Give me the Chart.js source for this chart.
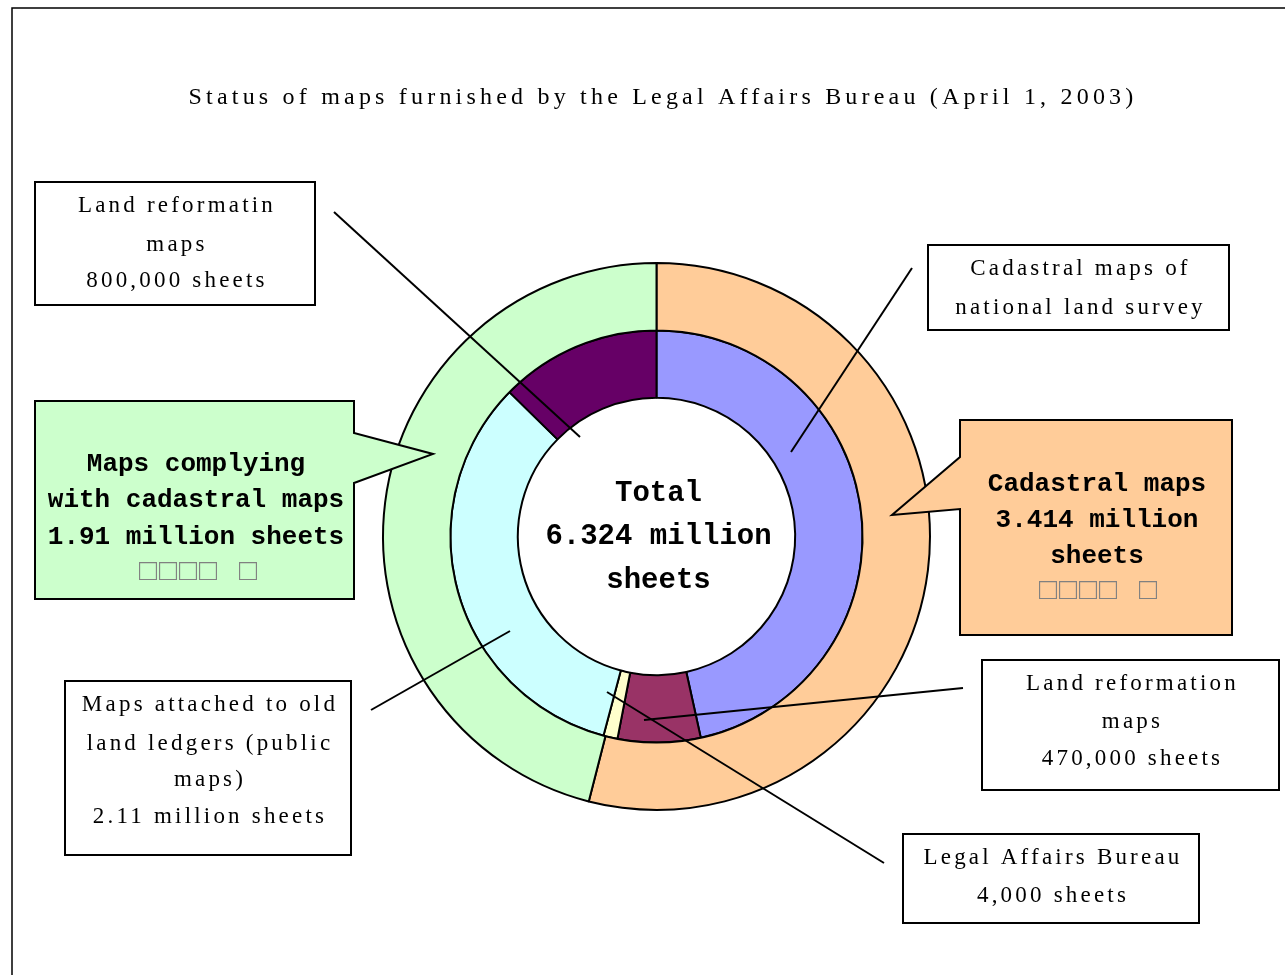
<!DOCTYPE html>
<html lang="en">
<head>
<meta charset="UTF-8">
<script src="https://cdn.jsdelivr.net/npm/chart.js"></script>
<style>
  body { margin: 0; background: #fff; }
</style>
</head>
<body>
<canvas id="myChart" width="1285" height="975"></canvas>
<script>
// outer ring: totals
const outerLabels = ['Cadastral maps', 'Maps complying with cadastral maps']
const outerValues = [3.414, 2.91]
const outerColors = ['#FFCC99', '#CCFFCC']

// inner ring: breakdown
const innerLabels = ['Cadastral maps of national land survey', 'Land reformation maps',
  'Legal Affairs Bureau', 'Maps attached to old land ledgers (public maps)', 'Land reformation maps']
const innerValues = [2.944, 0.41, 0.07, 2.1, 0.8]
const innerColors = ['#9999FF', '#993366', '#FFFFCC', '#CCFFFF', '#660066']

const titleText = 'Status of maps furnished by the Legal Affairs Bureau (April 1, 2003)'
const centerLines = ['Total', '6.324 million', 'sheets']

const REG = '23px "Liberation Serif"'
const BOLD = 'bold 26px "Liberation Mono"'

// label boxes: rect, lines of text, callout line
const boxes = [
  { x: 35, y: 182, w: 280, h: 123, lines: ['Land reformatin', 'maps', '800,000 sheets'], ys: [206, 245, 281], line: [334, 212, 580, 437] },
  { x: 928, y: 245, w: 301, h: 85, lines: ['Cadastral maps of', 'national land survey'], ys: [269, 308], line: [912, 268, 791, 452] },
  { x: 65, y: 681, w: 286, h: 174, lines: ['Maps attached to old', 'land ledgers (public', 'maps)', '2.11 million sheets'], ys: [705, 744, 780, 817], line: [371, 710, 510, 631] },
  { x: 982, y: 660, w: 297, h: 130, lines: ['Land reformation', 'maps', '470,000 sheets'], ys: [684, 722, 759], line: [963, 688, 644, 720] },
  { x: 903, y: 834, w: 296, h: 89, lines: ['Legal Affairs Bureau', '4,000 sheets'], ys: [858, 896], line: [884, 863, 607, 692] }
]

const annotate = {
  id: 'annotate',
  beforeDraw(chart) {
    const ctx = chart.ctx
    ctx.save()
    ctx.fillStyle = '#fff'
    ctx.fillRect(0, 0, chart.width, chart.height)
    ctx.strokeStyle = '#000'
    ctx.lineWidth = 1.5
    ctx.beginPath()
    ctx.moveTo(12, 975)
    ctx.lineTo(12, 8)
    ctx.lineTo(1285, 8)
    ctx.stroke()
    ctx.fillStyle = '#000'
    ctx.font = '24px "Liberation Serif"'
    ctx.letterSpacing = '4.2px'
    ctx.textAlign = 'center'
    ctx.textBaseline = 'middle'
    ctx.fillText(titleText, 663, 98)
    ctx.restore()
  },
  afterDraw(chart) {
    const ctx = chart.ctx
    ctx.save()
    ctx.textAlign = 'center'
    ctx.textBaseline = 'middle'

    // callout lines
    ctx.strokeStyle = '#000'
    ctx.lineWidth = 2
    boxes.forEach(b => {
      ctx.beginPath()
      ctx.moveTo(b.line[0], b.line[1])
      ctx.lineTo(b.line[2], b.line[3])
      ctx.stroke()
    })

    // plain boxes
    boxes.forEach(b => {
      ctx.fillStyle = '#fff'
      ctx.fillRect(b.x, b.y, b.w, b.h)
      ctx.strokeRect(b.x, b.y, b.w, b.h)
      ctx.fillStyle = '#000'
      ctx.font = REG
      ctx.letterSpacing = '3.2px'
      b.lines.forEach((t, i) => ctx.fillText(t, b.x + b.w / 2 + 2, b.ys[i]))
    })

    // green speech bubble
    ctx.beginPath()
    ctx.moveTo(35, 401); ctx.lineTo(354, 401); ctx.lineTo(354, 433)
    ctx.lineTo(433, 454); ctx.lineTo(354, 483); ctx.lineTo(354, 599)
    ctx.lineTo(35, 599); ctx.closePath()
    ctx.fillStyle = outerColors[1]
    ctx.fill()
    ctx.stroke()

    // orange speech bubble
    ctx.beginPath()
    ctx.moveTo(960, 420); ctx.lineTo(1232, 420); ctx.lineTo(1232, 635)
    ctx.lineTo(960, 635); ctx.lineTo(960, 509); ctx.lineTo(892, 515)
    ctx.lineTo(960, 457); ctx.closePath()
    ctx.fillStyle = outerColors[0]
    ctx.fill()
    ctx.stroke()

    ctx.font = BOLD
    ctx.letterSpacing = '0px'
    ctx.fillStyle = '#000'
    ;['Maps complying', 'with cadastral maps', '1.91 million sheets'].forEach((t, i) => ctx.fillText(t, 196, 464 + i * 36.5))
    ;['Cadastral maps', '3.414 million', 'sheets'].forEach((t, i) => ctx.fillText(t, 1097, 484 + i * 36))

    ctx.font = '30px "Liberation Mono"'
    ctx.letterSpacing = '2px'
    ctx.fillStyle = '#808080'
    ctx.fillText('\u25A1\u25A1\u25A1\u25A1 \u25A1', 199, 572)
    ctx.fillText('\u25A1\u25A1\u25A1\u25A1 \u25A1', 1099, 591)

    // center text
    ctx.font = 'bold 29px "Liberation Mono"'
    ctx.letterSpacing = '0px'
    ctx.fillStyle = '#000'
    const m = chart.getDatasetMeta(0).data[0]
    centerLines.forEach((t, i) => ctx.fillText(t, m.x + 2, m.y - 43 + i * 43.5))
    ctx.restore()
  }
}

new Chart(document.getElementById('myChart'), {
  type: 'doughnut',
  data: {
    labels: innerLabels,
    datasets: [
      { label: 'Total', data: outerValues, backgroundColor: outerColors, borderColor: '#000', borderWidth: 2 },
      { label: 'Breakdown', data: innerValues, backgroundColor: innerColors, borderColor: '#000', borderWidth: 2 }
    ]
  },
  options: {
    responsive: false,
    animation: false,
    devicePixelRatio: 1,
    cutout: '50.7%',
    layout: { padding: { left: 382, right: 354, top: 262, bottom: 164 } },
    plugins: {
      legend: { display: false },
      tooltip: { enabled: false }
    }
  },
  plugins: [annotate]
})
</script>
</body>
</html>
